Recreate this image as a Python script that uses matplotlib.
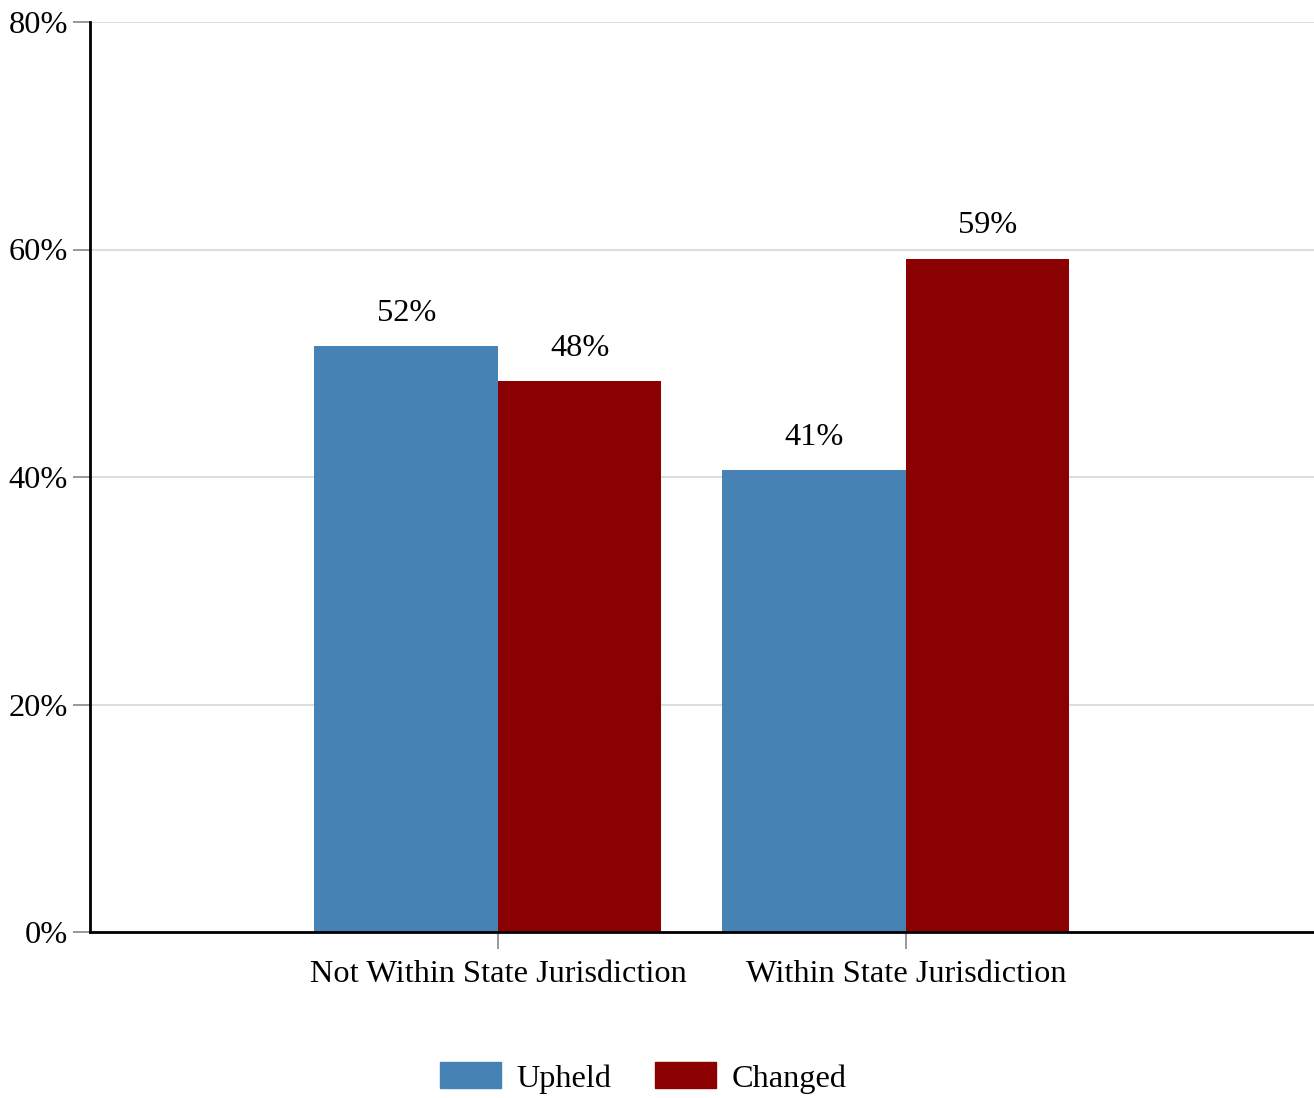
import numpy as np
import matplotlib.pyplot as plt
from matplotlib.patches import Patch

categories = ["Not Within State Jurisdiction", "Within State Jurisdiction"]
upheld = [51.5, 40.6]
changed = [48.4, 59.2]
upheld_labels = ["52%", "41%"]
changed_labels = ["48%", "59%"]
y_ticks = [0, 20, 40, 60, 80]

plt.rcParams['font.family'] = ['Liberation Serif', 'DejaVu Serif']
fs = 23.3

fig = plt.figure(figsize=(13.14, 10.98), dpi=100)
ax = fig.add_axes([90/1314, 1 - 932/1098, 1224/1314, 910/1098])

x = np.arange(1, len(categories) + 1)
w_up = 0.45
w_ch = 0.40
blue = "#4682B4"
red = "#8B0000"

ax.bar(x, upheld, width=-w_up, align="edge", color=blue, zorder=2)
ax.bar(x, changed, width=w_ch, align="edge", color=red, zorder=2)

for xi, v, lab in zip(x, upheld, upheld_labels):
    ax.text(xi - w_up / 2, v + 1.6, lab, ha="center", va="bottom", fontsize=fs)
for xi, v, lab in zip(x, changed, changed_labels):
    ax.text(xi + w_ch / 2, v + 1.6, lab, ha="center", va="bottom", fontsize=fs)

ax.set_xlim(0, 3)
ax.set_ylim(0, 80)
ax.set_yticks(y_ticks)
ax.set_yticklabels([f"{t}%" for t in y_ticks], fontsize=fs)
ax.set_xticks(x)
ax.set_xticklabels(categories, fontsize=fs)
ax.grid(axis="y", color="#dddddd", linewidth=1.5, zorder=0)
ax.set_axisbelow(True)

for s in ["top", "right"]:
    ax.spines[s].set_visible(False)
ax.spines["left"].set_linewidth(2)
ax.spines["bottom"].set_linewidth(2)
ax.tick_params(axis="both", color="#888888", length=12, width=1.2)
ax.tick_params(axis="x", pad=8)
ax.tick_params(axis="y", pad=4)

handles = [Patch(color=blue, label="Upheld"), Patch(color=red, label="Changed")]
fig.legend(handles=handles, loc="center", bbox_to_anchor=(643/1314, 1 - 1078/1098),
           ncol=2, frameon=False, fontsize=fs, handlelength=1.9, handleheight=0.85,
           columnspacing=1.36, handletextpad=0.46)

fig.savefig("out.png", dpi=100)
